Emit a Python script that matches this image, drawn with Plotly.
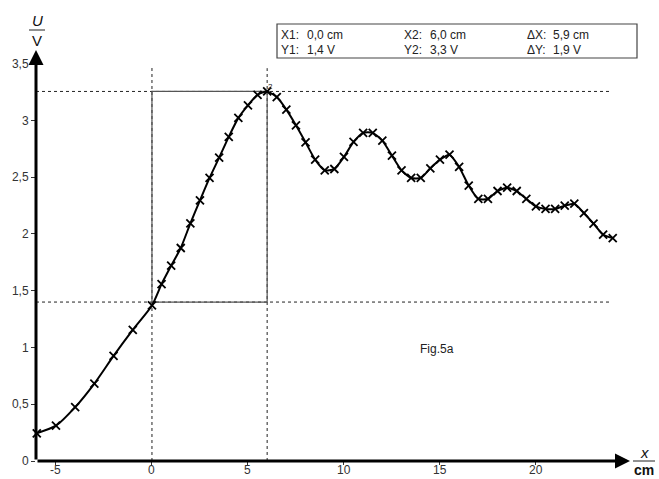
import plotly.graph_objects as go

x_cm = [-6, -5, -4, -3, -2, -1, 0, 0.5, 1.0, 1.5, 2.0, 2.5, 3.0, 3.5, 4.0, 4.5, 5.0, 5.5, 6.0,
        6.5, 7.0, 7.5, 8.0, 8.5, 9.0, 9.5, 10.0, 10.5, 11.0, 11.5, 12.0, 12.5, 13.0, 13.5, 14.0,
        14.5, 15.0, 15.5, 16.0, 16.5, 17.0, 17.5, 18.0, 18.5, 19.0, 19.5, 20.0, 20.5, 21.0,
        21.5, 22.0, 22.5, 23.0, 23.5, 24.0]
u_volt = [0.244, 0.311, 0.474, 0.682, 0.926, 1.155, 1.37, 1.558, 1.72, 1.876, 2.093, 2.295,
          2.493, 2.672, 2.855, 3.022, 3.133, 3.225, 3.255, 3.205, 3.095, 2.957, 2.807, 2.654,
          2.56, 2.572, 2.678, 2.81, 2.89, 2.89, 2.822, 2.69, 2.56, 2.493, 2.493, 2.578, 2.654,
          2.698, 2.59, 2.425, 2.308, 2.308, 2.378, 2.407, 2.378, 2.308, 2.243, 2.22, 2.22,
          2.249, 2.266, 2.184, 2.09, 1.993, 1.964]

x_ticks = [-5, 0, 5, 10, 15, 20]
x_ticktext = ["-5", "0", "5", "10", "15", "20"]
y_ticks = [0, 0.5, 1, 1.5, 2, 2.5, 3, 3.5]
y_ticktext = ["0", "0,5", "1", "1,5", "2", "2,5", "3", "3,5"]

cursor_x1, cursor_x2 = 0.0, 6.0
cursor_y1, cursor_y2 = 1.4, 3.255
readout = [["X1:", "0,0 cm", "X2:", "6,0 cm", "ΔX:", "5,9 cm"],
           ["Y1:", "1,4 V", "Y2:", "3,3 V", "ΔY:", "1,9 V"]]

X0, X1 = -6.04, 24.9
Y0, Y1 = 0, 3.62

# pixel -> paper helpers (plot area 36..630 x, 50..461 y)
L, R, T, B = 36, 630, 50, 461
def px(p):
    return (p - L) / (R - L)
def py(p):
    return (B - p) / (B - T)

fig = go.Figure()
fig.add_trace(go.Scatter(
    x=x_cm, y=u_volt, mode="lines+markers",
    line=dict(color="black", width=2, shape="spline", smoothing=0.6),
    marker=dict(symbol="x-thin", size=8, line=dict(color="black", width=1.8)),
    hoverinfo="skip", showlegend=False, cliponaxis=False))

shapes = []
dash = dict(color="#222", width=1, dash="3px,3px")
for yv in (cursor_y1, cursor_y2):
    shapes.append(dict(type="line", xref="x", yref="y", x0=X0, x1=23.85, y0=yv, y1=yv, line=dash, layer="below"))
shapes.append(dict(type="line", xref="x", yref="y", x0=cursor_x1, x1=cursor_x1, y0=0, y1=3.48, line=dash, layer="below"))
shapes.append(dict(type="line", xref="x", yref="y", x0=cursor_x2, x1=cursor_x2, y0=0, y1=3.46, line=dash, layer="below"))
shapes.append(dict(type="rect", xref="x", yref="y", x0=cursor_x1, x1=cursor_x2, y0=cursor_y1, y1=cursor_y2,
                   line=dict(color="#555", width=1.2), layer="below"))
shapes.append(dict(type="rect", xref="paper", yref="paper", x0=px(277), x1=px(637), y0=py(58), y1=py(24),
                   line=dict(color="#444", width=1.2), fillcolor="white"))
shapes.append(dict(type="line", xref="paper", yref="paper", x0=px(29), x1=px(45), y0=py(30), y1=py(30),
                   line=dict(color="#222", width=1)))
shapes.append(dict(type="line", xref="paper", yref="paper", x0=px(633), x1=px(655), y0=py(461), y1=py(461),
                   line=dict(color="#222", width=1)))
fig.update_layout(shapes=shapes)

ann = []
ann.append(dict(x=X1, y=0, ax=X0, ay=0, xref="x", yref="y", axref="x", ayref="y", text="",
                showarrow=True, arrowhead=2, arrowsize=1.0, arrowwidth=3, arrowcolor="black"))
ann.append(dict(x=X0, y=Y1, ax=X0, ay=0, xref="x", yref="y", axref="x", ayref="y", text="",
                showarrow=True, arrowhead=2, arrowsize=1.0, arrowwidth=3, arrowcolor="black"))
font = dict(family="Liberation Sans, Arial", size=12, color="#222")
cols = [279, 305, 402, 428, 525, 551]
for r, row in enumerate(readout):
    for c, txt in enumerate(row):
        ann.append(dict(x=px(cols[c]), y=py(35 + 15 * r), xref="paper", yref="paper", text=txt,
                        showarrow=False, xanchor="left", yanchor="middle", font=font))
big = dict(family="Liberation Sans, Arial", size=15, color="#111")
ann.append(dict(x=px(37), y=py(20), xref="paper", yref="paper", text="<i>U</i>", showarrow=False,
                xanchor="center", yanchor="middle", font=big))
ann.append(dict(x=px(37), y=py(40), xref="paper", yref="paper", text="V", showarrow=False,
                xanchor="center", yanchor="middle", font=big))
ann.append(dict(x=px(644), y=py(452), xref="paper", yref="paper", text="<i>x</i>", showarrow=False,
                xanchor="center", yanchor="middle", font=big))
ann.append(dict(x=px(644), y=py(470), xref="paper", yref="paper", text="<b>cm</b>", showarrow=False,
                xanchor="center", yanchor="middle", font=dict(family="Liberation Sans, Arial", size=14, color="#111")))
ann.append(dict(x=px(437), y=py(349), xref="paper", yref="paper", text="Fig.5a", showarrow=False,
                xanchor="center", yanchor="middle", font=font))
ann.append(dict(x=px(270), y=py(86), xref="paper", yref="paper", text="2", showarrow=False,
                xanchor="center", yanchor="middle", font=dict(family="Liberation Sans, Arial", size=8, color="#222")))
tickfont = dict(family="Liberation Sans, Arial", size=12, color="#333")
for tv, tt in zip(x_ticks, x_ticktext):
    ann.append(dict(x=tv, y=py(470), xref="x", yref="paper", text=tt, showarrow=False,
                    xanchor="center", yanchor="middle", font=tickfont))
fig.update_layout(annotations=ann)

fig.update_layout(
    width=659, height=479, margin=dict(l=L, r=659 - R, t=T, b=479 - B, pad=0),
    paper_bgcolor="white", plot_bgcolor="white",
    xaxis=dict(range=[X0, X1], tickvals=x_ticks, ticktext=x_ticktext, showticklabels=False,
               showgrid=False, zeroline=False, showline=False, ticks="outside", ticklen=3,
               tickcolor="#333", fixedrange=True, automargin=False),
    yaxis=dict(range=[Y0, Y1], tickvals=y_ticks, ticktext=y_ticktext, showgrid=False, zeroline=False,
               showline=False, ticks="outside", ticklen=4, tickcolor="#333", tickfont=tickfont,
               fixedrange=True, automargin=False),
)
fig.write_html("out.html", config={"displayModeBar": False})
